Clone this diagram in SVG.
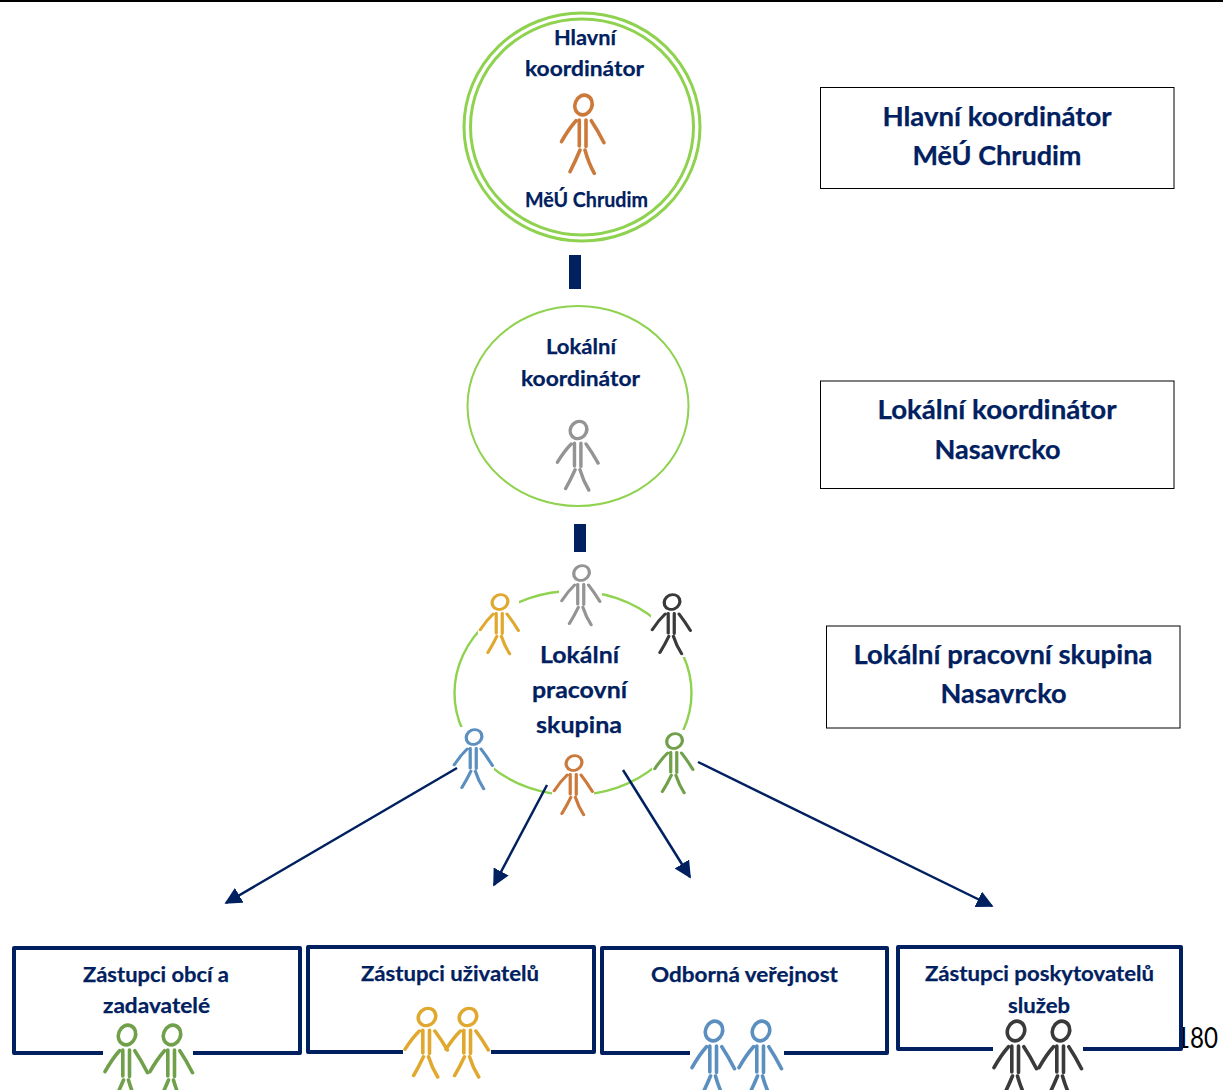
<svg xmlns="http://www.w3.org/2000/svg" width="1223" height="1090" viewBox="0 0 1223 1090">
<style>
text{font-family:"Lato","Liberation Sans",sans-serif;font-weight:700;fill:#002060;text-anchor:middle;stroke:#002060;stroke-width:.25}
.s{font-size:21.5px}.l{font-size:26px}.g{font-size:23.5px}
.ring{fill:#fff;stroke:#8fd24f}
.lab{fill:#fff;stroke:#000;stroke-width:1}
.box{fill:#fff;stroke:#002060;stroke-width:4;stroke-linejoin:round}
.gap{fill:#fff;stroke:none}
.bar{fill:#002060}
.c{fill:none;stroke:#002060;stroke-width:2.500}
.or{stroke:#cc7a3c}.gr{stroke:#949494}.ye{stroke:#e0a82e}.bk{stroke:#3a3a3a}.bl{stroke:#5b8fc0}.ge{stroke:#70a04a}
</style>
<defs>
<g id="p" fill="none" stroke-width="3.600" stroke-linecap="round">
<ellipse cx="0" cy="0" rx="8.500" ry="10" transform="rotate(22)"/>
<path d="M-4.200 15V41M2.500 15V41.500M-7.500 15.700Q-15 24-22 36.700M7.800 15.700Q14 25 20.500 37.700M-3.500 45Q-8 56-13.500 66.700M1.500 45Q5 58 10.800 68.300"/>
</g>
<marker id="a" viewBox="0 0 10 10" refX="9" refY="5" markerWidth="6.800" markerHeight="6.800" orient="auto" markerUnits="strokeWidth"><path d="M0 0L10 5L0 10Z" fill="#002060"/></marker>
</defs>
<rect width="1223" height="1090" fill="#fff"/>
<rect width="1223" height="2" fill="#000"/>

<g id="node-hlavni">
<ellipse class="ring" cx="582" cy="127" rx="118" ry="114" stroke-width="3"/>
<ellipse class="ring" cx="582" cy="127" rx="111.500" ry="108" stroke-width="3"/>
<text class="s" x="585" y="45" textLength="62" lengthAdjust="spacingAndGlyphs">Hlavní</text>
<text class="s" x="584.500" y="76" textLength="119" lengthAdjust="spacingAndGlyphs">koordinátor</text>
<use href="#p" class="or" transform="translate(583.500 105)"/>
<text class="s" x="586.500" y="207" textLength="123" lengthAdjust="spacingAndGlyphs">MěÚ Chrudim</text>
</g>
<g id="node-lokalni">
<ellipse class="ring" cx="578" cy="406" rx="110.500" ry="100" stroke-width="2"/>
<text class="s" x="581" y="354" textLength="70" lengthAdjust="spacingAndGlyphs">Lokální</text>
<text class="s" x="580.500" y="386" textLength="119" lengthAdjust="spacingAndGlyphs">koordinátor</text>
<use href="#p" class="gr" transform="translate(578.500 430) scale(.96 .88)"/>
</g>
<g id="bars">
<rect class="bar" x="569" y="255" width="12" height="34"/>
<rect class="bar" x="574" y="524" width="12" height="28"/>
</g>
<g id="node-skupina">
<ellipse class="ring" cx="573" cy="693" rx="118.500" ry="102" stroke-width="2.400"/>
<rect class="gap" x="559" y="582" width="43" height="50"/>
<rect class="gap" x="478" y="590" width="41" height="66"/>
<rect class="gap" x="651" y="590" width="42" height="67"/>
<rect class="gap" x="450" y="727" width="44" height="64"/>
<rect class="gap" x="652" y="730" width="44" height="66"/>
<rect class="gap" x="552" y="770" width="42" height="40"/>
<text class="g" x="579.500" y="663" textLength="79" lengthAdjust="spacingAndGlyphs">Lokální</text>
<text class="g" x="579.500" y="698" textLength="95" lengthAdjust="spacingAndGlyphs">pracovní</text>
<text class="g" x="579" y="733" textLength="86" lengthAdjust="spacingAndGlyphs">skupina</text>
<use href="#p" class="gr" transform="translate(581.500 573) scale(.9 .76)"/>
<use href="#p" class="ye" transform="translate(500 602) scale(.9 .76)"/>
<use href="#p" class="bk" transform="translate(672 602) scale(.9 .76)"/>
<use href="#p" class="bl" transform="translate(474 737) scale(.9 .76)"/>
<use href="#p" class="ge" transform="translate(674.500 741) scale(.9 .76)"/>
<use href="#p" class="or" transform="translate(574 763) scale(.9 .76)"/>
</g>
<g id="label-hlavni">
<rect class="lab" x="820.500" y="87.500" width="353.500" height="101"/>
<text class="l" x="997" y="125.500" textLength="229" lengthAdjust="spacingAndGlyphs">Hlavní koordinátor</text>
<text class="l" x="997" y="164.500" textLength="169" lengthAdjust="spacingAndGlyphs">MěÚ Chrudim</text>
</g>
<g id="label-lokalni">
<rect class="lab" x="820.500" y="381" width="353.500" height="107.500"/>
<text class="l" x="997" y="418.500" textLength="239" lengthAdjust="spacingAndGlyphs">Lokální koordinátor</text>
<text class="l" x="997.500" y="458.500" textLength="126" lengthAdjust="spacingAndGlyphs">Nasavrcko</text>
</g>
<g id="label-skupina">
<rect class="lab" x="826.500" y="626" width="353.500" height="102"/>
<text class="l" x="1003" y="663.500" textLength="299" lengthAdjust="spacingAndGlyphs">Lokální pracovní skupina</text>
<text class="l" x="1003.500" y="702.500" textLength="126" lengthAdjust="spacingAndGlyphs">Nasavrcko</text>
</g>
<g id="connectors">
<path class="c" d="M457 768L226 903" marker-end="url(#a)"/>
<path class="c" d="M547 785L494 885" marker-end="url(#a)"/>
<path class="c" d="M623 770L690 877" marker-end="url(#a)"/>
<path class="c" d="M698 762L992 906" marker-end="url(#a)"/>
</g>
<text x="1197" y="1048" style="font-weight:400;font-size:29px;fill:#000;stroke:none" textLength="42" lengthAdjust="spacingAndGlyphs">180</text>
<g id="node-obce">
<rect class="box" x="14" y="948" width="286" height="105"/>
<text class="s" x="156" y="982" textLength="146" lengthAdjust="spacingAndGlyphs">Zástupci obcí a</text>
<text class="s" x="156.500" y="1013" textLength="107" lengthAdjust="spacingAndGlyphs">zadavatelé</text>
<rect class="gap" x="103" y="1048" width="90" height="8"/>
<use href="#p" class="ge" transform="translate(127 1035)"/>
<use href="#p" class="ge" transform="translate(172 1035)"/>
</g>
<g id="node-uzivatele">
<rect class="box" x="308" y="947" width="286" height="105"/>
<text class="s" x="450" y="981" textLength="178" lengthAdjust="spacingAndGlyphs">Zástupci uživatelů</text>
<rect class="gap" x="403" y="1048" width="88" height="8"/>
<use href="#p" class="ye" transform="translate(427 1017) scale(1 .88)"/>
<use href="#p" class="ye" transform="translate(468 1017) scale(1 .88)"/>
</g>
<g id="node-verejnost">
<rect class="box" x="602" y="948" width="285" height="105"/>
<text class="s" x="744.500" y="982" textLength="187" lengthAdjust="spacingAndGlyphs">Odborná veřejnost</text>
<rect class="gap" x="690" y="1048" width="94" height="8"/>
<use href="#p" class="bl" transform="translate(714 1031)"/>
<use href="#p" class="bl" transform="translate(761 1031)"/>
</g>
<g id="node-poskytovatele">
<rect class="box" x="898" y="947" width="283" height="102"/>
<text class="s" x="1039.500" y="981" textLength="229" lengthAdjust="spacingAndGlyphs">Zástupci poskytovatelů</text>
<text class="s" x="1039" y="1013" textLength="62" lengthAdjust="spacingAndGlyphs">služeb</text>
<rect class="gap" x="993" y="1044" width="90" height="8"/>
<use href="#p" class="bk" transform="translate(1016 1031)"/>
<use href="#p" class="bk" transform="translate(1061 1031)"/>
</g>
</svg>
